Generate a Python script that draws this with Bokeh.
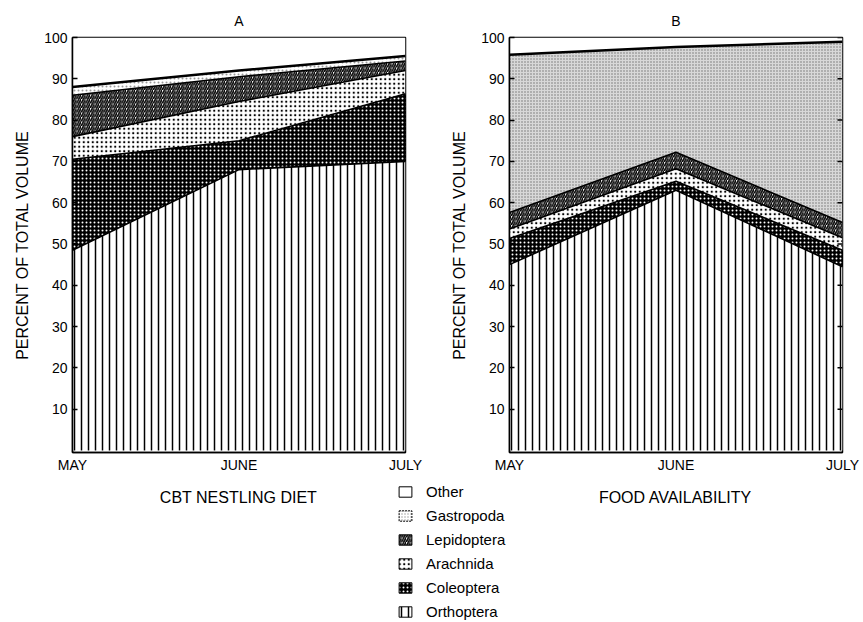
import numpy as np
from bokeh.plotting import figure
from bokeh.models import Range1d, FixedTicker, Label, Legend, LegendItem
from bokeh.layouts import column, row
from bokeh.embed import file_html
from bokeh.resources import INLINE

# ---------------- data ----------------
months = ["MAY", "JUNE", "JULY"]
month_pos = [0, 1, 2]
categories = ["Orthoptera", "Coleoptera", "Arachnida", "Lepidoptera", "Gastropoda", "Other"]
y_ticks = [10, 20, 30, 40, 50, 60, 70, 80, 90, 100]

# Panel A: CBT nestling diet (percent of total volume)
diet_orthoptera = [48.5, 68.0, 70.0]
diet_coleoptera = [22.0, 7.0, 16.4]
diet_arachnida = [5.5, 9.5, 5.6]
diet_lepidoptera = [10.0, 6.0, 2.3]
diet_gastropoda = [2.0, 1.5, 1.2]
diet_other = [12.0, 8.0, 4.5]

# Panel B: food availability (percent of total volume)
food_orthoptera = [45.0, 63.0, 44.5]
food_coleoptera = [6.3, 2.2, 4.0]
food_arachnida = [2.3, 3.0, 3.0]
food_lepidoptera = [4.0, 4.0, 3.7]
food_gastropoda = [38.2, 25.5, 43.8]
food_other = [4.2, 2.3, 1.0]

FONT = "Liberation Sans"

styles = {
    "Orthoptera": dict(fill_color="white", hatch_pattern="vertical_line", hatch_color="black",
                       hatch_scale=7, hatch_weight=1.5),
    "Coleoptera": dict(fill_color="black", hatch_pattern="dot", hatch_color="white",
                       hatch_scale=4, hatch_weight=1.6),
    "Arachnida": dict(fill_color="white", hatch_pattern="dot", hatch_color="black",
                      hatch_scale=4.5, hatch_weight=1.8),
    "Lepidoptera": dict(fill_color="white", hatch_pattern="right_diagonal_line", hatch_color="black",
                        hatch_scale=4.5, hatch_weight=1.6),
    "Gastropoda": dict(fill_color="white", hatch_pattern="dot", hatch_color="#9a9a9a",
                       hatch_scale=4, hatch_weight=1.2),
    "Other": dict(fill_color="white"),
}
gastro_b_style = dict(fill_color="#d8d8d8", hatch_pattern="dot", hatch_color="#707070",
                      hatch_scale=3, hatch_weight=1.2)


def make_panel(title, series, left_border, right_border, width, gastro_style, right_ticks):
    p = figure(width=width, height=478, x_range=Range1d(0, 2), y_range=Range1d(-0.5, 100),
               toolbar_location=None, output_backend="svg",
               min_border_left=left_border, min_border_right=right_border,
               min_border_top=37, min_border_bottom=26, title=title)
    p.title.align = "center"
    p.title.text_font = FONT
    p.title.text_font_size = "14px"
    p.title.text_font_style = "normal"
    p.title.text_color = "black"
    p.title.standoff = 18
    p.grid.visible = False
    p.outline_line_color = "black"
    p.outline_line_width = 1.5

    base = np.zeros(len(month_pos))
    tops = []
    for cat, vals in zip(categories, series):
        top = base + np.array(vals)
        st = styles[cat] if cat != "Gastropoda" else gastro_style
        p.varea(x=month_pos, y1=base, y2=top, **st)
        tops.append(top)
        base = top
    for i, top in enumerate(tops[:-1]):
        lw = 2.5 if i == len(tops) - 2 else 1.6
        p.line(month_pos, top, line_color="black", line_width=lw)

    xa = p.xaxis[0]
    xa.ticker = FixedTicker(ticks=month_pos)
    xa.major_label_overrides = {i: m for i, m in zip(month_pos, months)}
    xa.major_tick_in = 0
    xa.major_tick_out = 0
    xa.minor_tick_line_color = None
    xa.axis_line_width = 1.5
    xa.major_label_text_font = FONT
    xa.major_label_text_font_size = "14px"
    xa.major_label_text_color = "black"
    xa.major_label_standoff = 4

    ya = p.yaxis[0]
    ya.ticker = FixedTicker(ticks=y_ticks)
    ya.major_tick_in = 5
    ya.major_tick_out = 0
    ya.major_tick_line_width = 1.5
    ya.minor_tick_line_color = None
    ya.axis_line_width = 1.5
    ya.major_label_text_font = FONT
    ya.major_label_text_font_size = "14px"
    ya.major_label_text_color = "black"
    ya.major_label_standoff = 5
    ya.axis_label = "PERCENT OF TOTAL VOLUME"
    ya.axis_label_text_font = FONT
    ya.axis_label_text_font_style = "normal"
    ya.axis_label_text_font_size = "16px"
    ya.axis_label_text_color = "black"
    ya.axis_label_standoff = 10

    if right_ticks:
        # inward tick marks on the right-hand frame edge
        p.ray(x=[month_pos[-1]] * len(y_ticks), y=y_ticks, length=5, length_units="screen",
              angle=np.pi, line_color="black", line_width=1.5)
    return p


pa = make_panel("A", [diet_orthoptera, diet_coleoptera, diet_arachnida, diet_lepidoptera,
                      diet_gastropoda, diet_other], 72, 25, 430, styles["Gastropoda"], False)
pb = make_panel("B", [food_orthoptera, food_coleoptera, food_arachnida, food_lepidoptera,
                      food_gastropoda, food_other], 79, 19, 431, gastro_b_style, True)

# -------- bottom strip: panel captions and shared legend --------
leg = figure(width=861, height=142, x_range=Range1d(0, 1), y_range=Range1d(0, 1),
             toolbar_location=None, output_backend="svg", min_border=0,
             x_axis_type=None, y_axis_type=None)
leg.grid.visible = False
leg.outline_line_color = None

leg.add_layout(Label(x=238, y=123, x_units="screen", y_units="screen", text="CBT NESTLING DIET",
                     text_font=FONT, text_font_size="16px", text_align="center",
                     text_baseline="middle", text_color="black"))
leg.add_layout(Label(x=675, y=123, x_units="screen", y_units="screen", text="FOOD AVAILABILITY",
                     text_font=FONT, text_font_size="16px", text_align="center",
                     text_baseline="middle", text_color="black"))

legend_styles = dict(styles)
legend_styles["Gastropoda"] = dict(fill_color="white", hatch_pattern="dot", hatch_color="#9a9a9a",
                                   hatch_scale=3, hatch_weight=1.0)
items = []
for cat in reversed(categories):
    st = legend_styles[cat]
    line_dash = "2 1" if cat == "Gastropoda" else "solid"
    # swatch-only renderer: its single quad lies outside the visible range
    r = leg.quad(left=[5], right=[6], top=[6], bottom=[5], line_color="black", line_width=1,
                 line_dash=line_dash, **st)
    items.append(LegendItem(label=cat, renderers=[r]))

legend = Legend(items=items, location=(397, -1), padding=0, margin=0, border_line_color=None,
                background_fill_alpha=0, glyph_width=16, glyph_height=13, label_height=19,
                spacing=5, label_standoff=13, label_text_font=FONT, label_text_font_size="15px",
                label_text_color="black")
leg.add_layout(legend)

layout = column(row(pa, pb), leg)
open("out.html", "w").write(file_html(layout, INLINE))
